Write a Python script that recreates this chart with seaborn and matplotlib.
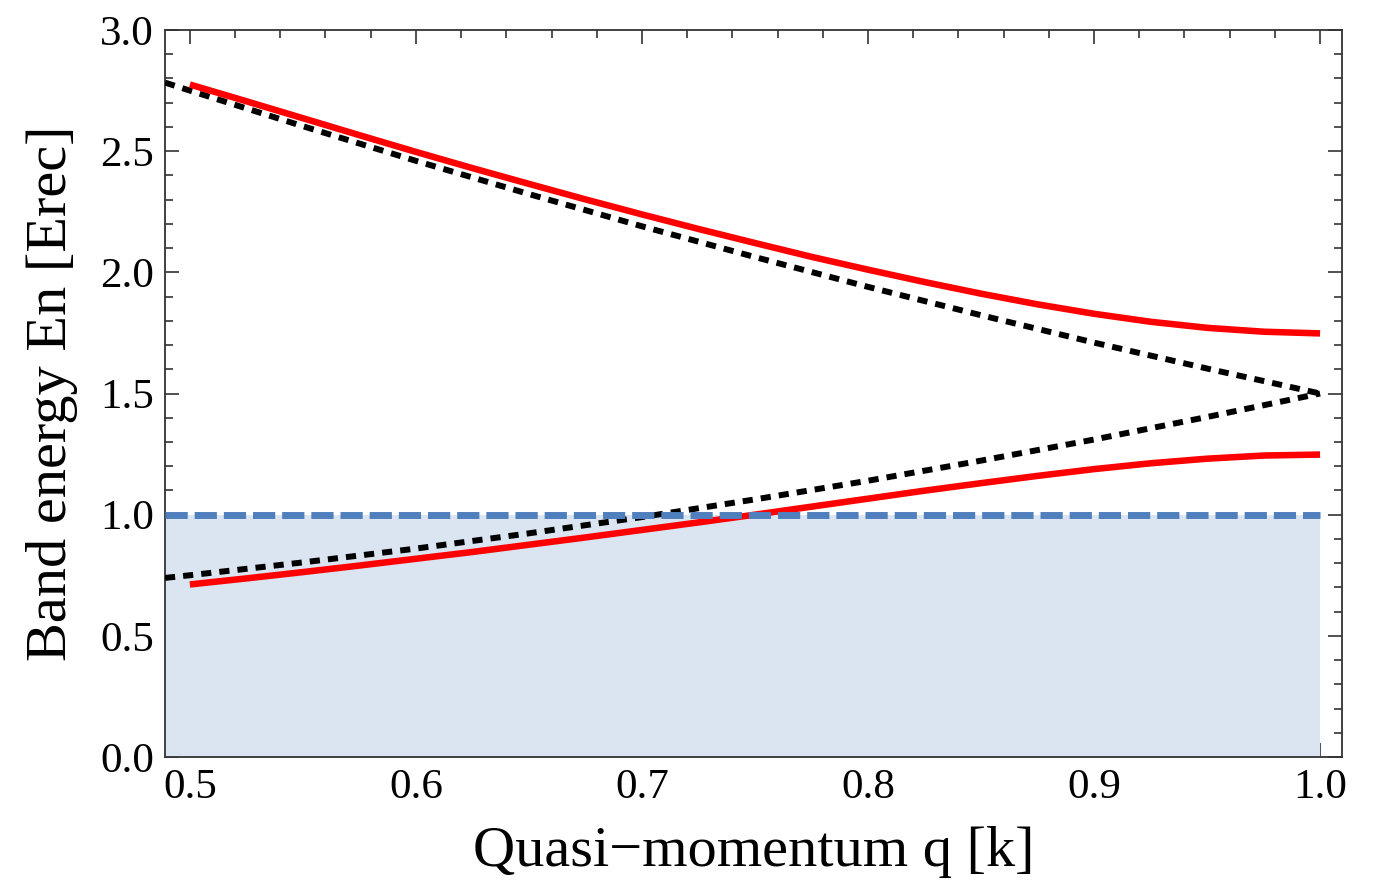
import matplotlib
matplotlib.use("Agg")
import matplotlib.pyplot as plt
import seaborn as sns
from matplotlib.ticker import MultipleLocator, FormatStrFormatter

# Lattice band energies (two lowest bands) versus quasi-momentum
q_band = [0.500, 0.525, 0.550, 0.575, 0.600, 0.625, 0.650, 0.675, 0.700,
          0.725, 0.750, 0.775, 0.800, 0.825, 0.850, 0.875, 0.900, 0.925,
          0.950, 0.975, 1.000]
upper_band = [2.775, 2.706, 2.636, 2.566, 2.497, 2.430, 2.365, 2.301, 2.239,
              2.179, 2.121, 2.064, 2.011, 1.960, 1.912, 1.868, 1.829, 1.796,
              1.771, 1.755, 1.748]
lower_band = [0.712, 0.737, 0.763, 0.790, 0.818, 0.846, 0.876, 0.906, 0.937,
              0.968, 1.000, 1.033, 1.066, 1.099, 1.130, 1.160, 1.188, 1.212,
              1.231, 1.244, 1.248]

# Free-particle branches (empty lattice)
q_free = [0.489, 0.50, 0.55, 0.60, 0.65, 0.70, 0.75, 0.80, 0.85, 0.90, 0.95, 1.00]
free_upper = [2.783, 2.750, 2.603, 2.460, 2.323, 2.190, 2.063, 1.940, 1.823,
              1.710, 1.603, 1.500]
free_lower = [0.739, 0.750, 0.803, 0.860, 0.923, 0.990, 1.063, 1.140, 1.223,
              1.310, 1.403, 1.500]

# Occupied region below the Fermi level
fermi_level = 1.0
q_fill = [0.489, 1.0]

sns.set_theme(style="ticks")
plt.rcParams["font.family"] = ["Liberation Serif", "DejaVu Serif"]

fig = plt.figure(figsize=(13.76, 8.96), dpi=100)
ax = fig.add_axes([165 / 1376, 1 - 757 / 896, (1342 - 165) / 1376, (757 - 30) / 896])

ax.fill_between(q_fill, 0, fermi_level, color="#dae5f1", lw=0, zorder=1)

sns.lineplot(x=q_free, y=free_upper, ax=ax, color="black", lw=4.3,
             linestyle=(0, (1.7, 1.35)), dash_capstyle="butt", zorder=3)
sns.lineplot(x=q_free, y=free_lower, ax=ax, color="black", lw=4.3,
             linestyle=(0, (1.7, 1.35)), dash_capstyle="butt", zorder=3)

sns.lineplot(x=q_band, y=upper_band, ax=ax, color="#ff0000", lw=4.7,
             solid_capstyle="butt", zorder=4)
sns.lineplot(x=q_band, y=lower_band, ax=ax, color="#ff0000", lw=4.7,
             solid_capstyle="butt", zorder=4)

sns.lineplot(x=q_fill, y=[fermi_level, fermi_level], ax=ax, color="#4f7fbd",
             lw=5.0, linestyle=(0, (3.2, 1.0)), dash_capstyle="butt", zorder=5)

ax.set_xlim(0.489, 1.0097)
ax.set_ylim(0.0, 3.0)

ax.xaxis.set_major_locator(MultipleLocator(0.1))
ax.xaxis.set_minor_locator(MultipleLocator(0.02))
ax.yaxis.set_major_locator(MultipleLocator(0.5))
ax.yaxis.set_minor_locator(MultipleLocator(0.1))
ax.xaxis.set_major_formatter(FormatStrFormatter("%.1f"))
ax.yaxis.set_major_formatter(FormatStrFormatter("%.1f"))

ax.tick_params(which="both", direction="in", top=True, right=True,
               color="#333333", width=1.2, labelsize=31, labelcolor="black")
ax.tick_params(which="major", length=10, pad=8)
ax.tick_params(which="minor", length=6)

for side in ["left", "right", "top", "bottom"]:
    ax.spines[side].set_color("#333333")
    ax.spines[side].set_linewidth(1.3)

ax.set_xlabel("Quasi\u2212momentum q [k]", fontsize=42, labelpad=14, color="black")
ax.set_ylabel("Band energy En [Erec]", fontsize=42, labelpad=16, color="black")

fig.savefig("out.png", dpi=100, facecolor="white")
